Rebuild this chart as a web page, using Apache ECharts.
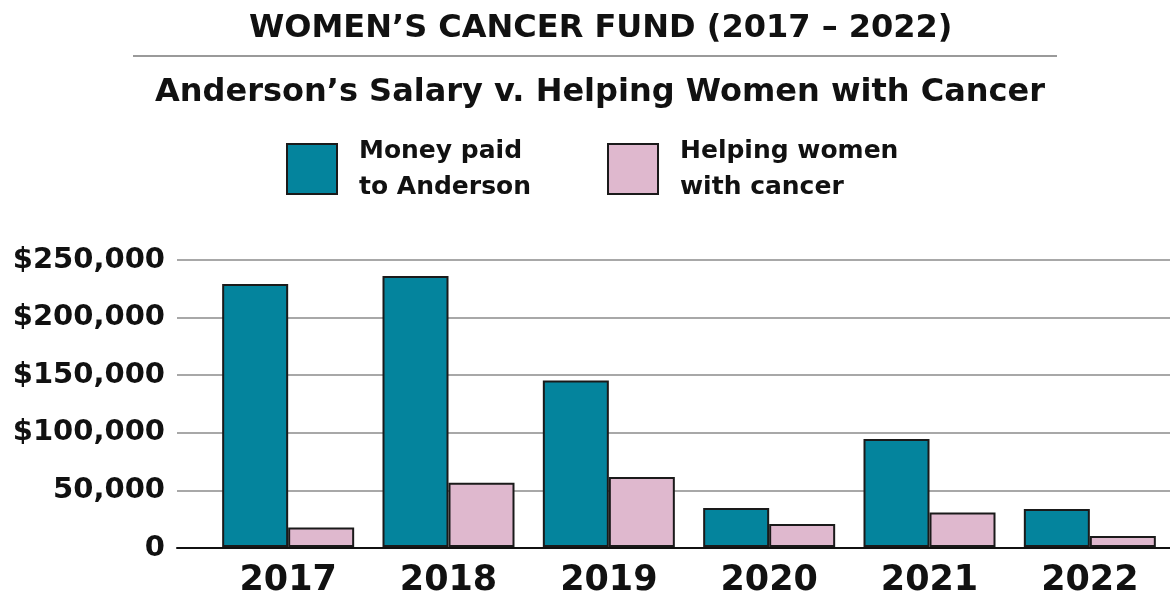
<!DOCTYPE html>
<html>
<head>
<meta charset="utf-8">
<title>Women's Cancer Fund</title>
</head>
<body style="margin:0;background:#fff">
<div id="main" style="width:1170px;height:598px;"></div>
<script src="https://cdn.jsdelivr.net/npm/echarts@6/dist/echarts.min.js"></script>
<script>
var years = ['2017', '2018', '2019', '2020', '2021', '2022'];
var salary = [229000, 236000, 145000, 34000, 94000, 33000];
var helping = [17000, 56000, 61000, 20000, 30000, 9500];
var yTickLabels = ['0', '50,000', '$100,000', '$150,000', '$200,000', '$250,000'];
var seriesNames = ['Money paid\nto Anderson', 'Helping women\nwith cancer'];

var FONT = 'DejaVu Sans';
var chart = echarts.init(document.getElementById('main'));
chart.setOption({
    backgroundColor: '#fff',
    animation: false,
    title: [{
        text: 'WOMEN’S CANCER FUND (2017 – 2022)',
        left: 244,
        top: 8,
        textStyle: { fontFamily: FONT, fontSize: 32, fontWeight: 'bold', color: '#111' }
    }, {
        text: 'Anderson’s Salary v. Helping Women with Cancer',
        left: 150,
        top: 72,
        textStyle: { fontFamily: FONT, fontSize: 32, fontWeight: 'bold', color: '#111' }
    }],
    graphic: [{
        type: 'line',
        shape: { x1: 133, y1: 56, x2: 1057, y2: 56 },
        style: { stroke: '#9a9a9a', lineWidth: 2 }
    }],
    legend: {
        data: seriesNames,
        left: 286,
        top: 133,
        padding: 0,
        itemWidth: 50,
        itemHeight: 50,
        itemGap: 76,
        icon: 'rect',
        textStyle: {
            fontFamily: FONT, fontSize: 25, fontWeight: 'bold', color: '#111',
            lineHeight: 36, padding: [0, 0, 0, 17]
        }
    },
    grid: [
        { left: 177, right: 0, top: 260, bottom: 50 },
        { left: 208, right: -6, top: 260, bottom: 50 }
    ],
    xAxis: [{
        type: 'value',
        gridIndex: 0,
        axisLabel: { show: false },
        axisTick: { show: false },
        splitLine: { show: false },
        axisLine: { show: true, onZero: false, lineStyle: { color: '#111', width: 2 } }
    }, {
        type: 'category',
        gridIndex: 1,
        data: years,
        axisLine: { show: false },
        axisTick: { show: false },
        axisLabel: {
            margin: 16,
            fontFamily: FONT, fontSize: 35, fontWeight: 'bold', color: '#111'
        }
    }],
    yAxis: [{
        type: 'value',
        gridIndex: 0,
        min: 0,
        max: 250000,
        interval: 50000,
        axisLine: { show: false },
        axisTick: { show: false },
        splitLine: { lineStyle: { color: '#a8a8a8', width: 2 } },
        axisLabel: {
            margin: 12,
            fontFamily: FONT, fontSize: 29, fontWeight: 'bold', color: '#111',
            formatter: function (v) { return yTickLabels[Math.round(v / 50000)]; }
        }
    }, {
        type: 'value',
        gridIndex: 1,
        min: 0,
        max: 250000,
        interval: 50000,
        show: false
    }],
    series: [{
        name: seriesNames[0],
        type: 'bar',
        xAxisIndex: 1,
        yAxisIndex: 1,
        data: salary,
        barWidth: 66,
        barGap: '0%',
        itemStyle: { color: '#04849d', borderColor: '#1a1a1a', borderWidth: 2 }
    }, {
        name: seriesNames[1],
        type: 'bar',
        xAxisIndex: 1,
        yAxisIndex: 1,
        data: helping,
        barWidth: 66,
        barGap: '0%',
        itemStyle: { color: '#dfb8ce', borderColor: '#1a1a1a', borderWidth: 2 }
    }]
});
</script>
</body>
</html>
